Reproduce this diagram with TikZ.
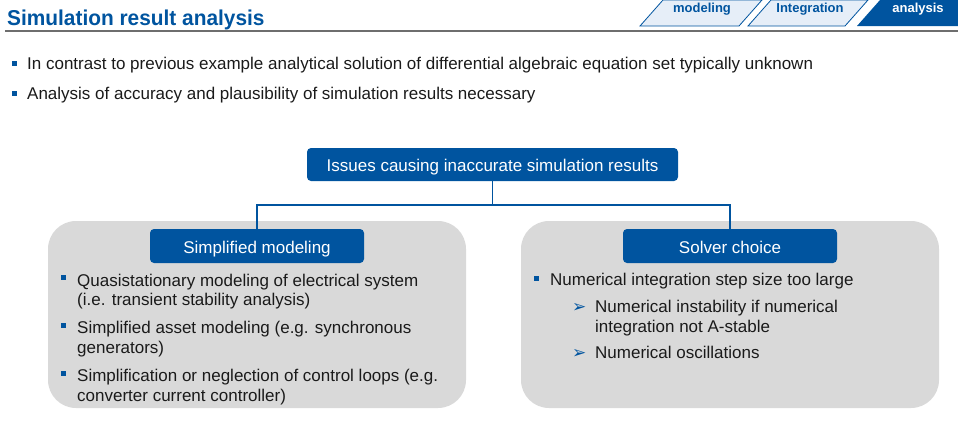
\documentclass[tikz,border=0pt]{standalone}
\usepackage{fontspec}
\setmainfont{Liberation Sans}
\newfontfamily\symfont{DejaVu Sans}
\newfontfamily\titlefont[FakeStretch=0.97]{Liberation Sans}
\usetikzlibrary{positioning,calc}
\definecolor{rwthblue}{HTML}{00549F}
\definecolor{panelgray}{HTML}{D9D9D9}
\definecolor{tabfill}{HTML}{E6EEF8}
\definecolor{bodytext}{HTML}{1A1A1A}
\definecolor{rulegray}{HTML}{6E6E6E}

\tikzset{
    headbox/.style={rectangle, rounded corners=4pt, fill=rwthblue, text=white,
        font=\fontsize{17}{20}\selectfont, inner sep=0pt,
        text height=14pt, text depth=0pt},
    panel/.style={rectangle, rounded corners=28pt, fill=panelgray, inner sep=0pt},
    bodyline/.style={anchor=base west, inner sep=0pt, text=bodytext,
        font=\fontsize{17}{20}\selectfont},
    sqbullet/.style={rectangle, fill=rwthblue, minimum size=5pt, inner sep=0pt},
    arrbullet/.style={anchor=base west, inner sep=0pt, text=rwthblue,
        font=\symfont\fontsize{17}{17}\selectfont},
    tabshape/.style={draw=rwthblue, line width=0.8pt, fill=tabfill},
    tabtext/.style={inner sep=0pt, font=\fontsize{13}{13}\selectfont\bfseries},
    link/.style={draw=rwthblue, line width=1.5pt},
}

\begin{document}
\begin{tikzpicture}[x=1pt, y=-1pt]
    \useasboundingbox (0,0) rectangle (958,423);

    % Title and rule
    \node[anchor=base west, inner sep=0pt, text=rwthblue,
          font=\titlefont\bfseries\fontsize{21.5}{24}\selectfont] (title) at (7,25) {Simulation result analysis};
    \draw[rulegray, line width=1.6pt] (5,31) -- (958,31);

    % Navigation tabs
    \draw[tabshape] (640,26) -- (663,0) -- (762,0) -- (739,26) -- cycle;
    \draw[tabshape] (748,26) -- (771,0) -- (868,0) -- (845,26) -- cycle;
    \fill[rwthblue] (857,26) -- (880,0) -- (958,0) -- (958,26) -- cycle;
    \node[tabtext, text=rwthblue] (tabmod) at (702,9) {modeling};
    \node[tabtext, text=rwthblue] (tabint) at (810,9) {Integration};
    \node[tabtext, text=white] (tabana) at (918,9) {analysis};

    % Top bullets
    \node[sqbullet] (b1) at (14,63) {};
    \node[bodyline] (t1) at (27,69) {In contrast to previous example analytical solution of differential algebraic equation set typically unknown};
    \node[sqbullet] (b2) at (14,93) {};
    \node[bodyline] (t2) at (27,99) {Analysis of accuracy and plausibility of simulation results necessary};

    % Panels
    \node[panel, minimum width=418pt, minimum height=187pt] (leftpanel) at (257,314.5) {};
    \node[panel, minimum width=418pt, minimum height=187pt] (rightpanel) at (730,314.5) {};

    % Header boxes
    \node[headbox, minimum width=371pt, minimum height=33pt] (issues) at (492.5,164.5) {Issues causing inaccurate simulation results};
    \node[headbox, minimum width=214pt, minimum height=34pt] (simp) at (257,246) {Simplified modeling};
    \node[headbox, minimum width=214pt, minimum height=34pt] (solver) at (730,246) {Solver choice};

    % Connectors
    \coordinate (bus) at (492.5,205);
    \draw[link] (issues.south) -- (bus) -| (simp.north);
    \draw[link] (bus) -| (solver.north);

    % Left panel items
    \node[sqbullet] (lb1) at (63,277) {};
    \node[bodyline] (l1a) at (77,286) {Quasistationary modeling of electrical system};
    \node[bodyline] (l1b) at (77,305) {(i.e. transient stability analysis)};
    \node[sqbullet] (lb2) at (63,325) {};
    \node[bodyline] (l2a) at (77,333) {Simplified asset modeling (e.g. synchronous};
    \node[bodyline] (l2b) at (77,353) {generators)};
    \node[sqbullet] (lb3) at (63,373) {};
    \node[bodyline] (l3a) at (77,381) {Simplification or neglection of control loops (e.g.};
    \node[bodyline] (l3b) at (77,401) {converter current controller)};

    % Right panel items
    \node[sqbullet] (rb1) at (536,278) {};
    \node[bodyline] (r1) at (550,285) {Numerical integration step size too large};
    \node[arrbullet] (ra1) at (572,312) {➢};
    \node[bodyline] (r2a) at (595,312) {Numerical instability if numerical};
    \node[bodyline] (r2b) at (595,332) {integration not A-stable};
    \node[arrbullet] (ra2) at (572,358) {➢};
    \node[bodyline] (r3) at (595,358) {Numerical oscillations};

\end{tikzpicture}
\end{document}
